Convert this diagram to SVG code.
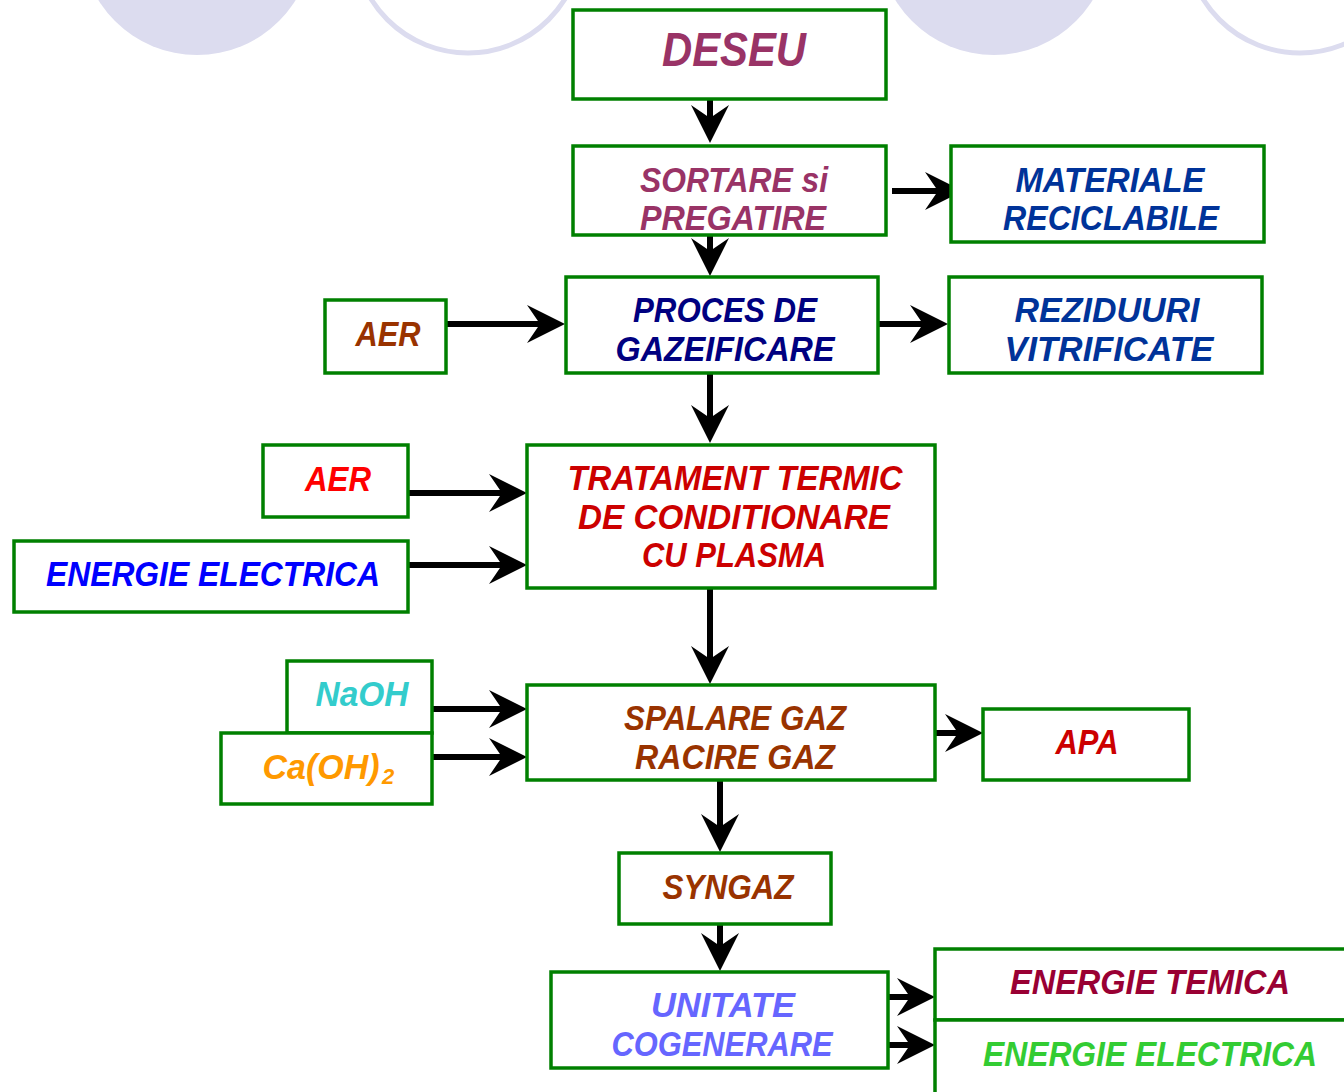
<svg xmlns="http://www.w3.org/2000/svg" width="1344" height="1092" viewBox="0 0 1344 1092">
<style>
.box{fill:#fff;stroke:#008000;stroke-width:3.5}
.t{font-family:"Liberation Sans",Arial,sans-serif;font-weight:bold;font-style:italic;font-size:35px;text-anchor:middle}
.c{stroke:#000;stroke-width:6;fill:none;marker-end:url(#ah)}
.bgf{fill:#DCDCEF}
.bgo{fill:none;stroke:#DCDCEF;stroke-width:5}
</style>
<defs>
<marker id="ah" markerUnits="userSpaceOnUse" viewBox="0 -19 38 38" refX="18" refY="0" markerWidth="38" markerHeight="38" orient="auto">
<path d="M38,0 L0,-19 L13,0 L0,19 Z" fill="#000"/>
</marker>
</defs>
<rect width="1344" height="1092" fill="#fff"/>
<g id="background">
<circle class="bgf" cx="197" cy="-61" r="116"/>
<circle class="bgo" cx="468" cy="-61" r="114"/>
<circle class="bgf" cx="994" cy="-61" r="116"/>
<circle class="bgo" cx="1300" cy="-61" r="114"/>
</g>
<g id="connectors">
<line class="c" x1="710" y1="99" x2="710" y2="123"/>
<line class="c" x1="710" y1="235" x2="710" y2="256"/>
<line class="c" x1="892" y1="191" x2="943" y2="191"/>
<line class="c" x1="446" y1="324" x2="545" y2="324"/>
<line class="c" x1="878" y1="324" x2="928" y2="324"/>
<line class="c" x1="710" y1="373" x2="710" y2="423"/>
<line class="c" x1="408" y1="493" x2="507" y2="493"/>
<line class="c" x1="408" y1="565" x2="507" y2="565"/>
<line class="c" x1="710" y1="588" x2="710" y2="664"/>
<line class="c" x1="432" y1="709" x2="507" y2="709"/>
<line class="c" x1="432" y1="757" x2="507" y2="757"/>
<line class="c" x1="935" y1="733" x2="963" y2="733"/>
<line class="c" x1="720" y1="780" x2="720" y2="832"/>
<line class="c" x1="720" y1="924" x2="720" y2="951"/>
<line class="c" x1="888" y1="997" x2="915" y2="997"/>
<line class="c" x1="888" y1="1045" x2="915" y2="1045"/>
</g>
<g id="deseu"><rect class="box" x="573" y="10" width="313" height="89"/>
<text class="t" x="734" y="66" fill="#993366" style="font-size:48px" textLength="144" lengthAdjust="spacingAndGlyphs">DESEU</text></g>
<g id="sortare"><rect class="box" x="573" y="146" width="313" height="89"/>
<text class="t" x="734" y="192" fill="#993366" textLength="188" lengthAdjust="spacingAndGlyphs">SORTARE si</text>
<text class="t" x="733" y="230" fill="#993366" textLength="186" lengthAdjust="spacingAndGlyphs">PREGATIRE</text></g>
<g id="materiale"><rect class="box" x="951" y="146" width="313" height="96"/>
<text class="t" x="1110" y="192" fill="#003399" textLength="189" lengthAdjust="spacingAndGlyphs">MATERIALE</text>
<text class="t" x="1111" y="230" fill="#003399" textLength="216" lengthAdjust="spacingAndGlyphs">RECICLABILE</text></g>
<g id="proces"><rect class="box" x="566" y="277" width="312" height="96"/>
<text class="t" x="725" y="322" fill="#000080" textLength="184" lengthAdjust="spacingAndGlyphs">PROCES DE</text>
<text class="t" x="725" y="361" fill="#000080" textLength="219" lengthAdjust="spacingAndGlyphs">GAZEIFICARE</text></g>
<g id="aer1"><rect class="box" x="325" y="300" width="121" height="73"/>
<text class="t" x="388" y="346" fill="#993300" textLength="65" lengthAdjust="spacingAndGlyphs">AER</text></g>
<g id="reziduuri"><rect class="box" x="949" y="277" width="313" height="96"/>
<text class="t" x="1107" y="322" fill="#003399" textLength="185" lengthAdjust="spacingAndGlyphs">REZIDUURI</text>
<text class="t" x="1109" y="361" fill="#003399" textLength="209" lengthAdjust="spacingAndGlyphs">VITRIFICATE</text></g>
<g id="aer2"><rect class="box" x="263" y="445" width="145" height="72"/>
<text class="t" x="338" y="491" fill="#FF0000" textLength="66" lengthAdjust="spacingAndGlyphs">AER</text></g>
<g id="tratament"><rect class="box" x="527" y="445" width="408" height="143"/>
<text class="t" x="735" y="490" fill="#CC0000" textLength="335" lengthAdjust="spacingAndGlyphs">TRATAMENT TERMIC</text>
<text class="t" x="734" y="529" fill="#CC0000" textLength="312" lengthAdjust="spacingAndGlyphs">DE CONDITIONARE</text>
<text class="t" x="734" y="567" fill="#CC0000" textLength="184" lengthAdjust="spacingAndGlyphs">CU PLASMA</text></g>
<g id="energie1"><rect class="box" x="14" y="541" width="394" height="71"/>
<text class="t" x="213" y="586" fill="#0000FF" textLength="334" lengthAdjust="spacingAndGlyphs">ENERGIE ELECTRICA</text></g>
<g id="spalare"><rect class="box" x="527" y="685" width="408" height="95"/>
<text class="t" x="735" y="730" fill="#993300" textLength="222" lengthAdjust="spacingAndGlyphs">SPALARE GAZ</text>
<text class="t" x="735" y="769" fill="#993300" textLength="200" lengthAdjust="spacingAndGlyphs">RACIRE GAZ</text></g>
<g id="naoh"><rect class="box" x="287" y="661" width="145" height="72"/>
<text class="t" x="362" y="706" fill="#33CCCC" textLength="93" lengthAdjust="spacingAndGlyphs">NaOH</text></g>
<g id="caoh"><rect class="box" x="221" y="733" width="211" height="71"/>
<text class="t" x="321" y="779" fill="#FF9900" textLength="117" lengthAdjust="spacingAndGlyphs">Ca(OH)</text>
<text class="t" x="388" y="784" fill="#FF9900" style="font-size:22px">2</text></g>
<g id="apa"><rect class="box" x="983" y="709" width="206" height="71"/>
<text class="t" x="1087" y="754" fill="#CC0000" textLength="63" lengthAdjust="spacingAndGlyphs">APA</text></g>
<g id="syngaz"><rect class="box" x="619" y="853" width="212" height="71"/>
<text class="t" x="728" y="899" fill="#993300" textLength="131" lengthAdjust="spacingAndGlyphs">SYNGAZ</text></g>
<g id="unitate"><rect class="box" x="551" y="972" width="337" height="96"/>
<text class="t" x="723" y="1017" fill="#6666FF" textLength="144" lengthAdjust="spacingAndGlyphs">UNITATE</text>
<text class="t" x="722" y="1056" fill="#6666FF" textLength="221" lengthAdjust="spacingAndGlyphs">COGENERARE</text></g>
<g id="energie_temica"><rect class="box" x="935" y="949" width="420" height="71"/>
<text class="t" x="1150" y="994" fill="#990033" textLength="280" lengthAdjust="spacingAndGlyphs">ENERGIE TEMICA</text></g>
<g id="energie2"><rect class="box" x="935" y="1020" width="420" height="80"/>
<text class="t" x="1150" y="1066" fill="#33CC33" textLength="334" lengthAdjust="spacingAndGlyphs">ENERGIE ELECTRICA</text></g>
</svg>
